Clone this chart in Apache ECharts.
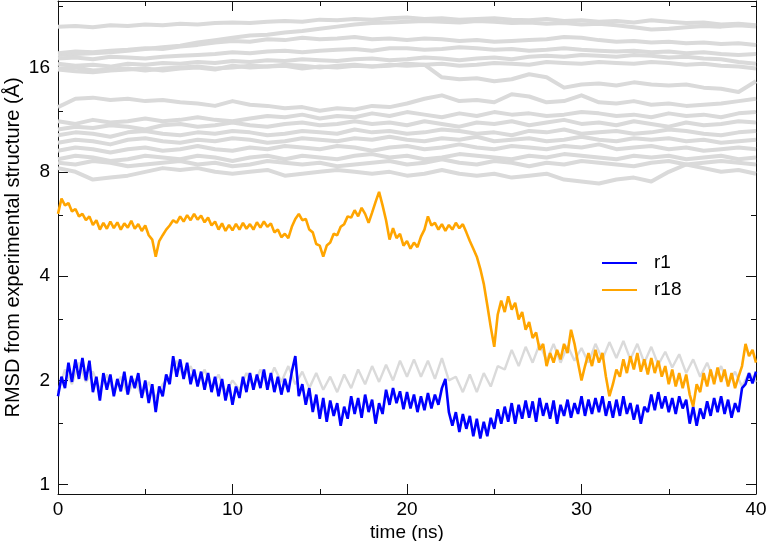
<!DOCTYPE html>
<html><head><meta charset="utf-8">
<script src="https://cdn.jsdelivr.net/npm/echarts@6/dist/echarts.min.js"></script>
<style>html,body{margin:0;padding:0;background:#fff}#c{width:767px;height:541px}</style>
</head><body><div id="c"></div>
<script>
// sampling grids (ns)
const tFine = Array.from({length: 201}, (_, i) => +(i * 0.2).toFixed(1));
const tMid = Array.from({length: 101}, (_, i) => +(i * 0.4).toFixed(1));
const tCoarse = Array.from({length: 41}, (_, i) => i);

const yMajorTicks = [1, 2, 4, 8, 16];
const yMinorTicks = [1.5, 3, 6, 12, 24];

// r1 (blue), every 0.2 ns
const r1 = [1.80,2.05,1.90,2.25,1.98, 2.30,2.02,2.32,2.00,2.28, 1.85,2.05,1.75,2.10,1.88, 2.08,1.80,2.02,1.86,2.12,
 1.82,2.06,1.90,2.10,1.78, 2.00,1.72,1.95,1.62,1.92, 1.80,2.08,1.95,2.35,2.05, 2.30,2.02,2.25,1.95,2.15,
 1.92,2.12,1.88,2.10,1.85, 2.05,1.80,2.02,1.75,1.95, 1.70,1.92,1.78,2.05,1.85, 2.10,1.88,2.08,1.90,2.15,
 1.88,2.10,1.85,2.05,1.82, 2.02,1.85,2.12,2.35,1.80, 1.95,1.70,1.90,1.62,1.82, 1.55,1.78,1.52,1.75,1.58,
 1.72,1.48,1.68,1.55,1.80, 1.60,1.78,1.56,1.82,1.62, 1.76,1.50,1.72,1.60,1.88, 1.70,1.90,1.72,1.86,1.65,
 1.85,1.66,1.82,1.62,1.80, 1.64,1.84,1.66,1.82,1.70, 1.90,2.02,1.62,1.48,1.62, 1.42,1.60,1.45,1.58,1.38,
 1.55,1.36,1.52,1.38,1.56, 1.45,1.65,1.50,1.68,1.52, 1.72,1.50,1.70,1.55,1.75, 1.56,1.74,1.52,1.78,1.58,
 1.72,1.55,1.75,1.50,1.70, 1.58,1.76,1.56,1.72,1.60, 1.80,1.58,1.76,1.60,1.78, 1.62,1.80,1.58,1.74,1.56,
 1.76,1.58,1.80,1.60,1.72, 1.54,1.70,1.50,1.68,1.62, 1.82,1.64,1.85,1.66,1.80, 1.62,1.78,1.60,1.80,1.66,
 1.76,1.50,1.68,1.48,1.66, 1.55,1.74,1.58,1.78,1.62, 1.80,1.60,1.76,1.56,1.72, 1.62,1.90,1.95,2.10,1.96,
 2.12];

// r18 (orange), every 0.2 ns
const r18 = [6.05,6.70,6.40,6.50,6.15, 6.25,5.95,6.05,5.80,5.95, 5.62,5.80,5.45,5.70,5.48, 5.75,5.50,5.72,5.45,5.68,
 5.52,5.78,5.48,5.65,5.40, 5.60,5.25,5.10,4.55,5.05, 5.25,5.45,5.60,5.80,5.70, 5.95,5.75,6.00,5.80,6.05,
 5.82,5.98,5.72,5.90,5.60, 5.75,5.45,5.68,5.40,5.62, 5.42,5.66,5.45,5.70,5.48, 5.65,5.45,5.72,5.52,5.75,
 5.55,5.68,5.35,5.45,5.18, 5.30,5.15,5.55,5.85,6.05, 5.80,5.85,5.45,5.35,4.95, 4.90,4.55,4.90,5.00,5.30,
 5.25,5.55,5.65,5.95,5.90, 6.20,5.95,6.30,6.05,5.70, 6.10,6.55,7.00,6.40,5.80, 5.10,5.50,5.15,5.30,4.90,
 5.05,4.80,5.00,4.85,5.20, 5.45,5.95,5.60,5.70,5.45, 5.65,5.40,5.62,5.45,5.70, 5.50,5.65,5.35,5.05,4.80,
 4.55,4.20,3.80,3.30,2.85, 2.50,3.10,3.40,3.15,3.50, 3.20,3.35,3.00,3.15,2.80, 2.95,2.65,2.75,2.45,2.55,
 2.20,2.40,2.25,2.45,2.30, 2.55,2.40,2.80,2.55,2.25, 2.00,2.20,2.40,2.20,2.45, 2.25,2.40,2.05,1.80,1.95,
 2.15,2.05,2.30,2.10,2.35, 2.15,2.40,2.12,2.30,2.08, 2.32,2.10,2.28,2.05,2.20, 1.95,2.15,1.92,2.10,1.90,
 2.08,1.82,1.68,1.95,1.85, 2.10,1.92,2.15,1.95,2.18, 1.98,2.15,1.92,2.10,1.90, 2.05,2.20,2.55,2.35,2.45,
 2.25];

// other replicas (grey)
const gLow = [1.85,2.15,1.95,2.25,1.98, 2.12,1.88,2.08,1.85,2.05, 1.82,2.02,1.80,1.98,1.78, 1.95,2.05,2.28,2.05,2.20,
 1.95,2.15,1.90,2.08,1.85, 2.00,1.88,2.10,1.92,2.15, 1.95,2.18,1.98,2.20,1.95, 2.12,1.90,2.10,1.88,2.05,
 1.85,2.08,1.90,2.15,1.95, 2.20,1.98,2.22,2.00,2.28, 2.05,2.30,2.05,2.28,2.02, 2.32,2.00,2.05,1.85,2.08,
 1.85,2.10,1.92,2.20,2.15, 2.45,2.20,2.50,2.25,2.55, 2.28,2.55,2.25,2.52,2.28, 2.48,2.25,2.55,2.30,2.58,
 2.32,2.60,2.30,2.55,2.25, 2.50,2.22,2.42,2.18,2.38, 2.10,2.30,2.05,2.25,2.00, 2.20,1.95,2.12,1.92,2.10,
 1.98];

const gA  = [21.0,21.1,20.9,21.2,21.1,21.3,21.2,21.4,21.3,21.5,21.6,21.5,21.7,21.8,21.7,22.0,21.9,22.1,22.0,22.2,22.3,22.1,22.2,22.0,22.1,22.2,22.0,21.9,22.1,21.8,21.9,21.7,21.8,21.6,21.9,21.7,21.5,21.6,21.3,21.4,21.2];
const gA2 = [17.4,17.5,17.6,17.7,17.9,18.1,18.3,18.5,18.9,19.2,19.5,19.8,19.9,20.2,20.4,20.7,21.0,21.3,21.5,21.6,21.7,21.8,21.7,21.6,21.8,21.7,21.5,21.6,21.4,21.5,21.3,21.4,21.2,20.9,20.6,20.7,20.9,21.1,21.0,21.2,21.0];
const gB1 = [17.6,17.8,17.7,17.9,18.0,18.2,18.1,18.4,18.6,18.9,19.1,19.0,19.3,19.2,19.5,19.3,19.4,19.6,19.3,19.4,19.2,19.4,19.3,19.1,19.2,19.0,19.1,19.2,19.3,19.6,19.5,19.2,19.0,19.1,18.9,19.0,18.8,18.9,18.7,18.8,18.6];
const gB2 = [17.0,17.1,16.9,17.2,17.1,17.0,17.2,17.3,17.4,17.5,17.7,17.6,17.8,17.9,17.7,17.9,18.0,18.1,17.9,18.2,18.2,18.0,18.1,18.3,18.2,18.0,18.1,17.9,18.0,18.2,18.0,17.9,17.8,17.9,17.7,17.8,17.6,17.7,17.5,17.4,17.5];
const gB3 = [16.4,16.2,16.3,16.1,16.4,16.3,16.5,16.4,16.6,16.5,16.7,16.6,16.8,16.7,16.9,16.8,16.7,16.9,17.0,16.8,16.9,17.1,17.0,16.8,17.0,17.1,16.9,17.2,17.3,17.2,17.4,17.3,17.2,17.4,17.3,17.1,17.2,17.0,16.9,16.6,16.4];
const gB4 = [15.9,16.0,15.7,15.8,15.9,15.7,15.9,16.0,16.1,15.9,16.0,16.2,16.1,16.3,16.2,16.0,16.2,16.3,16.1,16.2,16.4,16.3,16.4,16.2,16.3,16.5,16.4,16.3,16.6,16.5,16.4,16.6,16.5,16.4,16.6,16.5,16.3,16.4,16.2,16.1,15.9];
const gD  = [15.8,15.6,15.5,15.7,15.8,15.9,15.7,15.9,16.0,15.8,16.2,16.0,16.1,16.2,15.9,16.1,16.0,16.2,16.1,16.3,16.2,16.3,15.0,14.8,14.9,14.6,14.8,15.3,15.0,14.0,14.3,14.4,14.2,14.5,14.3,14.2,14.3,14.0,13.9,13.6,14.6];
const gC  = [12.3,13.0,13.1,12.9,13.0,12.8,12.9,12.7,12.6,12.4,12.8,12.5,12.4,12.2,12.3,12.0,12.2,12.1,12.4,12.3,12.6,13.0,13.3,12.8,12.9,12.7,13.4,13.2,12.7,12.8,13.3,12.7,12.6,12.8,12.5,12.6,12.4,12.5,12.6,12.8,13.0];
const gE1 = [11.2,11.0,11.3,11.1,11.2,11.4,11.2,11.3,11.5,11.3,11.2,11.4,11.6,11.5,11.7,11.4,11.6,11.5,11.8,11.6,11.9,11.7,11.5,11.8,11.6,11.9,11.7,11.8,11.6,11.7,11.9,11.8,11.6,11.7,11.5,11.8,11.6,11.7,11.5,11.8,11.9];
const gE2 = [10.6,10.8,10.7,10.9,10.8,10.6,10.9,11.0,10.8,10.9,11.1,10.9,10.8,11.0,11.1,10.9,11.0,11.2,11.0,11.1,10.9,11.2,11.0,10.8,11.1,11.0,11.2,10.9,11.1,11.3,11.0,11.1,10.9,11.2,11.0,10.8,11.1,10.9,11.0,11.2,11.1];
const gE3 = [10.2,10.4,10.3,10.1,10.4,10.5,10.3,10.2,10.4,10.3,10.5,10.4,10.2,10.3,10.5,10.4,10.3,10.6,10.4,10.5,10.3,10.4,10.6,10.5,10.3,10.4,10.2,10.5,10.4,10.6,10.3,10.4,10.5,10.3,10.4,10.6,10.5,10.3,10.2,10.4,10.5];
const gE4 = [9.7,9.9,9.8,9.6,9.9,10.0,9.8,9.7,9.9,9.8,10.0,9.9,9.7,9.8,10.0,9.9,9.8,10.0,9.9,10.1,9.9,9.8,10.0,9.9,10.1,9.8,9.9,10.0,9.8,9.9,10.1,9.9,9.8,10.0,9.9,10.0,9.8,9.9,9.7,9.8,9.9];
const gE5 = [9.2,9.4,9.3,9.1,9.3,9.4,9.2,9.3,9.5,9.3,9.2,9.4,9.3,9.5,9.4,9.3,9.5,9.4,9.2,9.4,9.5,9.3,9.4,9.6,9.4,9.3,9.5,9.4,9.3,9.5,9.4,9.6,9.3,9.4,9.5,9.3,9.4,9.2,9.3,9.4,9.3];
const gE6 = [8.7,8.9,8.8,8.6,8.7,8.9,8.8,8.7,8.9,8.8,8.6,8.8,8.9,8.7,8.9,8.8,8.7,8.9,9.0,8.8,8.9,8.7,8.8,9.0,8.9,8.8,8.7,8.9,8.8,9.0,8.9,8.8,8.7,8.9,8.8,8.9,8.7,8.8,8.9,8.7,8.8];
const gE7 = [8.5,8.4,8.6,8.5,8.3,8.4,8.5,8.6,8.4,8.5,8.3,8.4,8.6,8.5,8.4,8.5,8.3,8.4,8.5,8.6,8.4,8.5,8.7,8.5,8.4,8.6,8.5,8.3,8.5,8.4,8.6,8.5,8.4,8.3,8.5,8.6,8.4,8.5,8.6,8.5,8.4];
const gF  = [8.2,8.0,7.6,7.7,7.8,8.0,8.2,8.1,8.2,8.0,7.9,8.0,8.1,7.8,7.9,8.0,8.1,8.0,7.9,8.0,7.8,7.9,8.1,7.9,7.8,7.9,7.7,7.8,7.9,7.6,7.5,7.4,7.6,7.7,7.5,8.0,8.4,8.2,8.0,8.1,7.9];

const greyCoarse = [gA, gA2, gB1, gB2, gB3, gB4, gD, gC, gE1, gE2, gE3, gE4, gE5, gE6, gE7, gF];

const zip = (ts, vs) => vs.map((v, i) => [ts[i], v]);
const GREY = '#dadada';
const FONT = 'Liberation Sans, Arial, Helvetica, sans-serif';
const AXC = '#111';

const series = [];
greyCoarse.forEach(arr => series.push({
  type: 'line', data: zip(tCoarse, arr), showSymbol: false, silent: true,
  lineStyle: {color: GREY, width: 4, join: 'round'}, itemStyle: {color: GREY}
}));
series.push({type: 'line', data: zip(tMid, gLow), showSymbol: false, silent: true,
  lineStyle: {color: GREY, width: 2.4}, itemStyle: {color: GREY}});
series.push({name: 'r1', type: 'line', data: zip(tFine, r1), showSymbol: false,
  lineStyle: {color: '#0000ff', width: 2.6}, itemStyle: {color: '#0000ff'}});
series.push({name: 'r18', type: 'line', data: zip(tFine, r18), showSymbol: false,
  lineStyle: {color: '#ffa500', width: 2.6}, itemStyle: {color: '#ffa500'}});

const yBase = {type: 'log', logBase: 2, min: 0.94, max: 24.9, splitLine: {show: false}, minorTick: {show: false}};
const xBase = {type: 'value', min: 0, max: 40, interval: 10, splitLine: {show: false}};

const chart = echarts.init(document.getElementById('c'), null, {renderer: 'canvas'});
chart.setOption({
  animation: false,
  backgroundColor: '#fff',
  grid: {left: 58, right: 11, top: 1, bottom: 47, outerBoundsMode: 'none', containLabel: false},
  legend: {
    data: ['r1', 'r18'], orient: 'vertical', left: 597, top: 248,
    icon: 'rect', itemWidth: 35, itemHeight: 2, itemGap: 7,
    textStyle: {fontSize: 19, fontFamily: FONT, color: '#000', lineHeight: 20, padding: [0, 0, 0, 12]}
  },
  xAxis: [
    Object.assign({}, xBase, {
      position: 'bottom',
      name: 'time (ns)', nameLocation: 'middle', nameGap: 29, nameMoveOverlap: false,
      nameTextStyle: {fontSize: 19, fontFamily: FONT, color: '#000'},
      axisLine: {show: true, lineStyle: {color: AXC, width: 1}},
      axisTick: {show: true, inside: true, length: 10, lineStyle: {color: AXC}},
      minorTick: {show: true, splitNumber: 2, length: 5, lineStyle: {color: AXC}},
      axisLabel: {fontSize: 19, fontFamily: FONT, color: '#000', margin: 6, showMinLabel: true, showMaxLabel: true}
    }),
    Object.assign({}, xBase, {
      position: 'top',
      axisLine: {show: true, lineStyle: {color: AXC, width: 1}},
      axisTick: {show: true, inside: true, length: 10, lineStyle: {color: AXC}},
      minorTick: {show: true, splitNumber: 2, length: 5, lineStyle: {color: AXC}},
      axisLabel: {show: false}
    })
  ],
  yAxis: [
    Object.assign({}, yBase, {
      position: 'left',
      name: 'RMSD from experimental structure (Å)', nameLocation: 'middle', nameGap: 35, nameMoveOverlap: false,
      nameTextStyle: {fontSize: 20, fontFamily: FONT, color: '#000'},
      axisLine: {show: true, lineStyle: {color: AXC, width: 1}},
      axisTick: {show: true, inside: true, length: 10, customValues: yMajorTicks, lineStyle: {color: AXC}},
      axisLabel: {fontSize: 19, fontFamily: FONT, color: '#000', margin: 8, customValues: yMajorTicks}
    }),
    Object.assign({}, yBase, {
      position: 'left',
      axisLine: {show: false},
      axisTick: {show: true, inside: true, length: 5, customValues: yMinorTicks, lineStyle: {color: AXC}},
      axisLabel: {show: false}
    }),
    Object.assign({}, yBase, {
      position: 'right',
      axisLine: {show: true, lineStyle: {color: AXC, width: 1}},
      axisTick: {show: true, inside: true, length: 10, customValues: yMajorTicks, lineStyle: {color: AXC}},
      axisLabel: {show: false}
    }),
    Object.assign({}, yBase, {
      position: 'right',
      axisLine: {show: false},
      axisTick: {show: true, inside: true, length: 5, customValues: yMinorTicks, lineStyle: {color: AXC}},
      axisLabel: {show: false}
    })
  ],
  series: series
});
</script></body></html>
